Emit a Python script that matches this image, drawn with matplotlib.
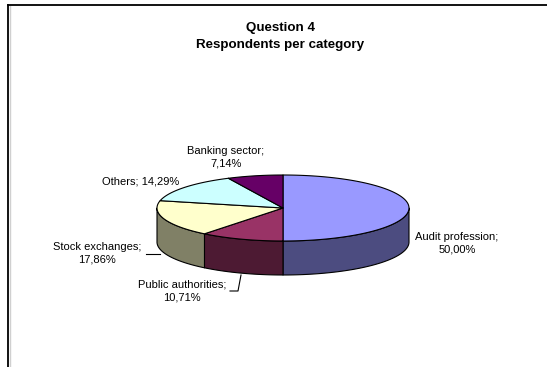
import numpy as np
import matplotlib.pyplot as plt
from matplotlib.patches import Polygon

plt.rcParams['font.family'] = ['Liberation Sans', 'DejaVu Sans']

# Respondents per category (share in %)
categories = ['Audit profession', 'Public authorities', 'Stock exchanges', 'Others', 'Banking sector']
shares = [50.00, 10.71, 17.86, 14.29, 7.14]
top_colors = ['#9999ff', '#993366', '#ffffcc', '#ccffff', '#660066']
side_colors = ['#4c4c80', '#4d1a33', '#808066', '#668080', '#330033']

# label placement (centre of text block, in pixels) and layout
label_pos = [(457, 243), (182, 291), (97, 253), (141, 181), (226, 157)]
label_one_line = [False, False, False, True, False]

cx, cy, rx, ry, depth = 283, 208, 126, 33, 34


def ellipse(t):
    # t measured clockwise from 12 o'clock
    return cx + rx * np.sin(t), cy - ry * np.cos(t)


fig = plt.figure(figsize=(5.47, 3.67), dpi=100)
ax = fig.add_axes([0, 0, 1, 1])
ax.set_xlim(0, 547)
ax.set_ylim(367, 0)
ax.axis('off')

# chart frame
ax.plot([9.5, 9.5], [6, 367], color='#d0d0d0', lw=1)
ax.plot([8, 8], [5, 367], color='black', lw=1.3)
ax.plot([8, 547], [5, 5], color='black', lw=1.3)

fracs = np.array(shares) / sum(shares)
bounds = np.concatenate([[0], np.cumsum(fracs)]) * 2 * np.pi

# outer side walls, only the front half is visible
for i in range(len(shares)):
    t0 = max(bounds[i], np.pi / 2)
    t1 = min(bounds[i + 1], 3 * np.pi / 2)
    if t1 <= t0:
        continue
    t = np.linspace(t0, t1, 80)
    x, y = ellipse(t)
    pts = np.column_stack([np.concatenate([x, x[::-1]]),
                           np.concatenate([y, y[::-1] + depth])])
    ax.add_patch(Polygon(pts, closed=True, facecolor=side_colors[i],
                         edgecolor='black', lw=0.8, joinstyle='round'))

# top faces
for i in range(len(shares)):
    t = np.linspace(bounds[i], bounds[i + 1], 120)
    x, y = ellipse(t)
    pts = np.column_stack([np.concatenate([[cx], x]), np.concatenate([[cy], y])])
    ax.add_patch(Polygon(pts, closed=True, facecolor=top_colors[i],
                         edgecolor='black', lw=0.8, joinstyle='round'))

# data labels
for name, v, (lx, ly), one in zip(categories, shares, label_pos, label_one_line):
    pct = f'{v:.2f}%'.replace('.', ',')
    txt = f'{name}; {pct}' if one else f'{name};\n{pct}'
    ax.text(lx, ly, txt, ha='center', va='center', fontsize=8,
            linespacing=1.35, color='black')

# leader lines
ax.plot([146, 160], [254, 254], color='black', lw=0.8)
ax.plot([230, 238, 241], [291, 291, 275], color='black', lw=0.8)

ax.text(280, 28, 'Question 4', ha='center', va='center',
        fontsize=9.6, fontweight='bold')
ax.text(280, 45, 'Respondents per category', ha='center', va='center',
        fontsize=9.6, fontweight='bold')

fig.savefig('out.png', dpi=100, facecolor='white')
